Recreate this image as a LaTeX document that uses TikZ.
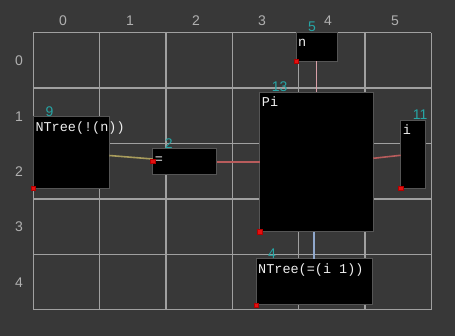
\documentclass[tikz,border=0pt]{standalone}
\usepackage{fontspec}
\setmainfont{Liberation Sans}
\newfontfamily\monof{Liberation Mono}
\usetikzlibrary{calc}
\definecolor{bgc}{HTML}{383838}
\definecolor{gridc}{HTML}{A0A0A0}
\definecolor{boxb}{HTML}{555555}
\definecolor{idxc}{HTML}{26A6A6}
\definecolor{axc}{HTML}{B0B0B0}
\definecolor{txtc}{HTML}{EEEEEE}
\definecolor{redc}{HTML}{E41010}
\definecolor{pinkc}{HTML}{D8A0A8}
\definecolor{bluec}{HTML}{90A8CC}
\definecolor{olivec}{HTML}{A89C5C}
\definecolor{redl}{HTML}{B85C5C}
\begin{document}
\begin{tikzpicture}[x=1pt,y=-1pt,
  box/.style={draw=boxb, fill=black, line width=1pt, inner sep=0pt, outer sep=0pt, anchor=north west},
  txt/.style={font=\monof\fontsize{13.5}{14}\selectfont, text=txtc, inner sep=0pt, anchor=base west},
  idx/.style={font=\fontsize{14}{15}\selectfont, text=idxc, inner sep=0pt, anchor=base west},
  ax/.style={font=\fontsize{14}{15}\selectfont, text=axc, inner sep=0pt},
  redsq/.style={fill=redc, draw=red!70!black, line width=0.4pt, minimum size=4.5pt, inner sep=0pt},
  conn/.style={line width=1.6pt}]
\useasboundingbox (0,0) rectangle (455,336);
\fill[bgc] (0,0) rectangle (455,336);
% grid
\foreach \i in {0,...,6} {
  \draw[gridc, line width=1.5pt] ({33.3+66.33*\i},32.7) -- ({33.3+66.33*\i},309.7);
}
\foreach \j in {0,...,5} {
  \draw[gridc, line width=1.5pt] (33.3,{32.7+55.4*\j}) -- (431.3,{32.7+55.4*\j});
}
% axis labels
\foreach \k/\xx in {0/63,1/130,2/196,3/262,4/328,5/395} {
  \node[ax] (col\k) at (\xx,21) {\k};
}
\foreach \k/\yy in {0/61,1/116.5,2/172,3/227,4/282.5} {
  \node[ax] (row\k) at (19,\yy) {\k};
}
% boxes
\node[box, minimum width=41pt, minimum height=29pt] (n) at (296,32.3) {};
\node[box, minimum width=113.6pt, minimum height=139.4pt] (Pi) at (259.7,92.3) {};
\node[box, minimum width=24.3pt, minimum height=68pt] (i) at (400.7,120.3) {};
\node[box, minimum width=116.3pt, minimum height=46pt] (t4) at (256,259) {};
\node[box, minimum width=76pt, minimum height=71.6pt] (t9) at (33.3,116.7) {};
\node[box, minimum width=64pt, minimum height=26pt] (eq) at (152.7,149) {};
% connectors
\draw[conn, pinkc] (n.south) -- (Pi.north);
\draw[conn, bluec] (t4.north |- Pi.south) -- (t4.north);
\draw[conn, olivec] ($(t9.east)+(0,3)$) -- ($(eq.west)+(0,-3)$);
\draw[conn, redl] (eq.east) -- (Pi.west);
\draw[conn, redl] ($(Pi.east)+(0,-3.7)$) -- ($(i.west)+(0,1)$);
% index labels
\node[idx] (l5) at ($(n.north west)+(12,-0.5)$) {5};
\node[idx] (l13) at ($(Pi.north west)+(12,-0.5)$) {13};
\node[idx] (l11) at ($(i.north west)+(12,-0.5)$) {11};
\node[idx] (l4) at ($(t4.north west)+(12,-0.5)$) {4};
\node[idx] (l9) at ($(t9.north west)+(12,-0.5)$) {9};
\node[idx] (l2) at ($(eq.north west)+(12,-0.5)$) {2};
% texts
\node[txt] (xn) at ($(n.north west)+(2,14.5)$) {n};
\node[txt] (xPi) at ($(Pi.north west)+(2,14.5)$) {Pi};
\node[txt] (xi) at ($(i.north west)+(2,14.5)$) {i};
\node[txt] (x4) at ($(t4.north west)+(2,14.5)$) {NTree(=(i 1))};
\node[txt] (x9) at ($(t9.north west)+(2,14.5)$) {NTree(!(n))};
\node[txt] (xeq) at ($(eq.north west)+(2,14.5)$) {=};
% red markers
\node[redsq] (rn) at (n.south west) {};
\node[redsq] (rPi) at (Pi.south west) {};
\node[redsq] (ri) at (i.south west) {};
\node[redsq] (r4) at (t4.south west) {};
\node[redsq] (r9) at (t9.south west) {};
\node[redsq] (req) at ($(eq.west)+(0,-1)$) {};
\end{tikzpicture}
\end{document}
